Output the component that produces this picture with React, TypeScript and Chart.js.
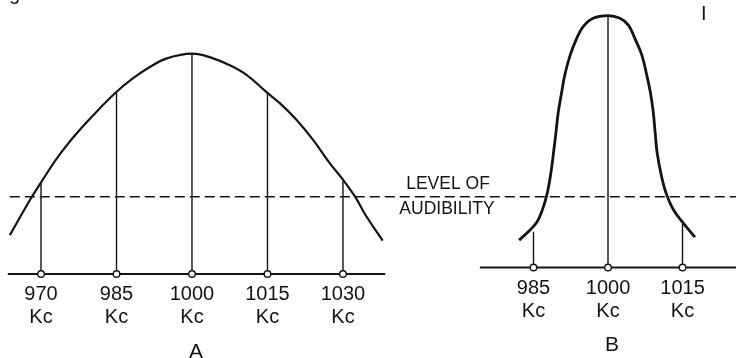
import React, { useEffect, useRef } from "react";
import { Chart, registerables } from "chart.js";

Chart.register(...registerables);

// ---- data -------------------------------------------------------------
const ticksA = [970, 985, 1000, 1015, 1030];
const ticksB = [985, 1000, 1015];
const tickUnit = "Kc";

// Panel A: broad resonance curve (frequency in Kc, relative response)
const curveAKc = [963.8, 967.8, 970.1, 973.4, 976.8, 980.1, 984.7, 988.3, 991.7, 995.0, 1000, 1004.2, 1007.6, 1010.9, 1014.7, 1017.5, 1020.8, 1024.1, 1027.4, 1029.9, 1032.4, 1034.7, 1037.9];
const curveAAmp = [17.6, 33.5, 41.8, 53.1, 62.9, 71.2, 81.8, 88.6, 93.8, 97.6, 99.7, 97.6, 94.4, 90.0, 82.5, 77.2, 69.7, 60.6, 50.1, 43.0, 35.0, 25.9, 15.1];
const stemsA = [41.6, 81.9, 99.7, 82.4, 43.0];

// Panel B: sharp resonance curve
const curveBKc = [982.1, 983.9, 985.7, 986.8, 987.8, 988.5, 989.1, 989.5, 990.0, 990.7, 991.3, 992.4, 993.7, 995.0, 997.0, 1000, 1002.4, 1004.1, 1005.4, 1006.8, 1007.8, 1008.5, 1009.1, 1009.5, 1009.9, 1010.8, 1011.7, 1013.2, 1015.2, 1017.5];
const curveBAmp = [12.4, 16.1, 20.6, 26.2, 33.9, 42.8, 53.2, 60.7, 70.5, 79.6, 87.1, 96.2, 103.7, 109.0, 112.8, 114.0, 112.8, 109.7, 103.7, 96.2, 87.1, 79.6, 70.5, 60.9, 51.8, 41.0, 33.6, 26.0, 20.0, 13.7];
const stemsB = [16.2, 114.0, 19.7];

// baselines (frequency extent) and level of audibility
const baselineAKc = [963.4, 1038.4];
const baselineBKc = [974.2, 1025.8];
const levelKc = [963.8, 1108.1];
const levelOfAudibility = 35;

const panelLabels = ["A", "B"];
const levelText = ["LEVEL OF", "AUDIBILITY"];

// ---- styling ------------------------------------------------------------
const INK = "#141414";
const TICK_FONT = '"Liberation Sans", Arial, sans-serif';
const TEXT_FONT = '"Liberation Sans", Arial, sans-serif';

const pts = (xs: number[], ys: number[]) => xs.map((x, i) => ({ x, y: ys[i] }));
const stems = (xs: number[], hs: number[]) =>
  xs.flatMap((x, i) => [{ x, y: 0 }, { x, y: hs[i] }, { x, y: null as any }]);

const annotations = {
  id: "annotations",
  afterDraw(chart: any) {
    const ctx = chart.ctx;
    const xA = chart.scales.xA;
    const xB = chart.scales.xB;
    ctx.save();
    ctx.fillStyle = INK;
    ctx.textAlign = "center";
    ctx.textBaseline = "middle";
    ctx.font = `17.5px ${TEXT_FONT}`;
    ctx.fillText(levelText[0], 448, 184);
    ctx.fillText(levelText[1], 447, 209.5);
    ctx.font = `21px ${TEXT_FONT}`;
    ctx.fillText(panelLabels[0], xA.getPixelForValue(1000) + 4, 352.5);
    ctx.fillText(panelLabels[1], xB.getPixelForValue(1000) + 4, 345.5);
    // scan remnants
    ctx.textAlign = "left";
    ctx.textBaseline = "alphabetic";
    ctx.font = `20px ${TEXT_FONT}`;
    ctx.fillText("g", 9, -0.5);
    ctx.fillText("I", 701, 20);
    ctx.restore();
  },
};

const tickOpts = () => ({
  autoSkip: false,
  maxRotation: 0,
  padding: 9,
  color: INK,
  font: { family: TICK_FONT, size: 20, lineHeight: 1.15 },
  callback: (v: number) => [String(v), tickUnit],
});

const noPad = (s: any) => {
  s.paddingLeft = 0;
  s.paddingRight = 0;
  s.paddingTop = 0;
  s.paddingBottom = 0;
};

export default function App() {
  const ref = useRef<HTMLCanvasElement | null>(null);

  useEffect(() => {
    if (!ref.current) return;
    const lineBase = {
      type: "line" as const,
      pointRadius: 0,
      fill: false,
      borderColor: INK,
      order: 2,
    };
    const chart = new Chart(ref.current, {
      type: "line",
      data: {
        datasets: [
          { ...lineBase, label: "A", xAxisID: "xA", yAxisID: "yA", data: pts(curveAKc, curveAAmp), borderWidth: 2.2, tension: 0.4 },
          { ...lineBase, label: "B", xAxisID: "xB", yAxisID: "yB", data: pts(curveBKc, curveBAmp), borderWidth: 2.8, tension: 0.4 },
          { ...lineBase, label: "stemsA", xAxisID: "xA", yAxisID: "yA", data: stems(ticksA, stemsA), borderWidth: 1.4, spanGaps: false, tension: 0 },
          { ...lineBase, label: "stemsB", xAxisID: "xB", yAxisID: "yB", data: stems(ticksB, stemsB), borderWidth: 1.4, spanGaps: false, tension: 0 },
          { ...lineBase, label: "baseA", xAxisID: "xA", yAxisID: "yA", data: baselineAKc.map((x) => ({ x, y: 0 })), borderWidth: 1.8 },
          { ...lineBase, label: "baseB", xAxisID: "xB", yAxisID: "yB", data: baselineBKc.map((x) => ({ x, y: 0 })), borderWidth: 1.8 },
          { ...lineBase, label: "level", xAxisID: "xA", yAxisID: "yA", data: levelKc.map((x) => ({ x, y: levelOfAudibility })), borderWidth: 1.5, borderDash: [10, 5] },
          { type: "line", label: "dotsA", xAxisID: "xA", yAxisID: "yA", data: ticksA.map((x) => ({ x, y: 0 })), showLine: false, pointRadius: 3.3, pointBackgroundColor: "#ffffff", pointBorderColor: INK, pointBorderWidth: 1.4, order: 0 },
          { type: "line", label: "dotsB", xAxisID: "xB", yAxisID: "yB", data: ticksB.map((x) => ({ x, y: 0 })), showLine: false, pointRadius: 3.3, pointBackgroundColor: "#ffffff", pointBorderColor: INK, pointBorderWidth: 1.4, order: 0 },
        ] as any,
      },
      options: {
        animation: false,
        responsive: false,
        events: [],
        layout: { padding: 0, autoPadding: false },
        plugins: { legend: { display: false }, tooltip: { enabled: false }, title: { display: false } },
        scales: {
          xA: {
            type: "linear",
            axis: "x",
            position: { yA: 0 } as any,
            min: 961.85,
            max: 1108.1,
            bounds: "data",
            grid: { display: false, drawTicks: false },
            border: { display: false },
            ticks: tickOpts() as any,
            afterBuildTicks: (s: any) => {
              s.ticks = ticksA.map((v) => ({ value: v }));
            },
            afterFit: noPad,
          },
          xB: {
            type: "linear",
            axis: "x",
            position: { yB: 0 } as any,
            min: 877.59,
            max: 1025.77,
            bounds: "data",
            grid: { display: false, drawTicks: false },
            border: { display: false },
            ticks: tickOpts() as any,
            afterBuildTicks: (s: any) => {
              s.ticks = ticksB.map((v) => ({ value: v }));
            },
            afterFit: noPad,
          },
          yA: { type: "linear", axis: "y", display: false, min: -38, max: 124 },
          yB: { type: "linear", axis: "y", display: false, min: -40.95, max: 121.04 },
        } as any,
      },
      plugins: [annotations],
    });
    return () => chart.destroy();
  }, []);

  return (
    <div style={{ position: "absolute", left: 0, top: 0, width: 736, height: 358, background: "#ffffff" }}>
      <canvas ref={ref} width={736} height={358} style={{ display: "block", width: 736, height: 358 }} />
    </div>
  );
}
